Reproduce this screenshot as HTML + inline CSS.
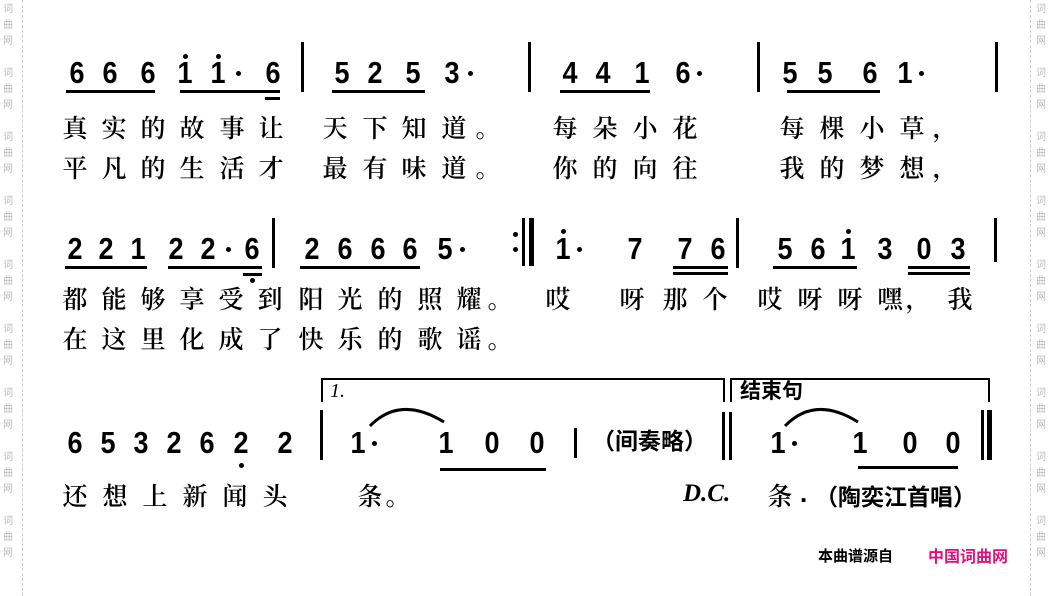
<!DOCTYPE html>
<html><head><meta charset="utf-8"><style>
html,body{margin:0;width:1050px;height:596px;overflow:hidden}
body{background:#fff;position:relative;font-family:"Liberation Sans","Noto Sans CJK SC",sans-serif;color:#000}
.n{position:absolute;font:bold 27px "Liberation Sans",sans-serif;transform:translateX(-50%) scaleY(1.12);line-height:1}
.l{position:absolute;font:25px "Noto Serif CJK SC","Noto Sans CJK SC",serif;font-weight:600;transform:translateX(-50%);line-height:1}
.u{position:absolute;height:3px;background:#000}
.b{position:absolute;width:3px;background:#000}
.d{position:absolute;width:5px;height:5px;border-radius:50%;background:#000}
.w{position:absolute;top:0;height:576px;overflow:hidden;font:10px "Noto Sans CJK SC",sans-serif;color:#bbb;width:14px;line-height:16px}
.w div{height:64px}
.vl{position:absolute;top:0;height:596px;border-left:1px dashed #ccc}
</style></head><body>
<div class="vl" style="left:22px"></div><div class="vl" style="left:1030px"></div>
<div class="w" style="left:3px"><div>词<br>曲<br>网</div><div>词<br>曲<br>网</div><div>词<br>曲<br>网</div><div>词<br>曲<br>网</div><div>词<br>曲<br>网</div><div>词<br>曲<br>网</div><div>词<br>曲<br>网</div><div>词<br>曲<br>网</div><div>词<br>曲<br>网</div></div>
<div class="w" style="left:1036px"><div>词<br>曲<br>网</div><div>词<br>曲<br>网</div><div>词<br>曲<br>网</div><div>词<br>曲<br>网</div><div>词<br>曲<br>网</div><div>词<br>曲<br>网</div><div>词<br>曲<br>网</div><div>词<br>曲<br>网</div><div>词<br>曲<br>网</div></div>

<!-- Row 1 -->
<div class="n" style="left:77px;top:60px">6</div><div class="n" style="left:110px;top:60px">6</div><div class="n" style="left:148px;top:60px">6</div>
<div class="n" style="left:185px;top:60px">1</div><div class="d" style="left:183px;top:54px"></div>
<div class="n" style="left:218px;top:60px">1</div><div class="d" style="left:216px;top:54px"></div><div class="d" style="left:236px;top:71px"></div>
<div class="n" style="left:273px;top:60px">6</div>
<div class="u" style="left:66px;top:90px;width:89px"></div><div class="u" style="left:180px;top:90px;width:100px"></div><div class="u" style="left:265px;top:97px;width:15px"></div>
<div class="b" style="left:301px;top:42px;height:50px"></div>
<div class="n" style="left:342px;top:60px">5</div><div class="n" style="left:375px;top:60px">2</div><div class="n" style="left:413px;top:60px">5</div><div class="n" style="left:452px;top:60px">3</div><div class="d" style="left:468px;top:71px"></div>
<div class="u" style="left:332px;top:90px;width:93px"></div>
<div class="b" style="left:528px;top:42px;height:50px"></div>
<div class="n" style="left:570px;top:60px">4</div><div class="n" style="left:603px;top:60px">4</div><div class="n" style="left:642px;top:60px">1</div><div class="n" style="left:683px;top:60px">6</div><div class="d" style="left:697px;top:71px"></div>
<div class="u" style="left:560px;top:90px;width:90px"></div>
<div class="b" style="left:757px;top:42px;height:50px"></div>
<div class="n" style="left:790px;top:60px">5</div><div class="n" style="left:825px;top:60px">5</div><div class="n" style="left:870px;top:60px">6</div><div class="n" style="left:905px;top:60px">1</div><div class="d" style="left:919px;top:71px"></div>
<div class="u" style="left:787px;top:90px;width:93px"></div>
<div class="b" style="left:995px;top:42px;height:50px"></div>

<div class="l" style="left:75px;top:115px">真</div><div class="l" style="left:114px;top:115px">实</div><div class="l" style="left:153px;top:115px">的</div><div class="l" style="left:192px;top:115px">故</div><div class="l" style="left:232px;top:115px">事</div><div class="l" style="left:271px;top:115px">让</div>
<div class="l" style="left:335px;top:115px">天</div><div class="l" style="left:375px;top:115px">下</div><div class="l" style="left:414px;top:115px">知</div><div class="l" style="left:454px;top:115px">道</div><div class="l" style="left:488px;top:115px">。</div>
<div class="l" style="left:565px;top:115px">每</div><div class="l" style="left:605px;top:115px">朵</div><div class="l" style="left:645px;top:115px">小</div><div class="l" style="left:685px;top:115px">花</div>
<div class="l" style="left:792px;top:115px">每</div><div class="l" style="left:832px;top:115px">棵</div><div class="l" style="left:872px;top:115px">小</div><div class="l" style="left:912px;top:115px">草</div><div class="l" style="left:945px;top:115px">，</div>
<div class="l" style="left:75px;top:155px">平</div><div class="l" style="left:114px;top:155px">凡</div><div class="l" style="left:153px;top:155px">的</div><div class="l" style="left:192px;top:155px">生</div><div class="l" style="left:232px;top:155px">活</div><div class="l" style="left:271px;top:155px">才</div>
<div class="l" style="left:335px;top:155px">最</div><div class="l" style="left:375px;top:155px">有</div><div class="l" style="left:414px;top:155px">味</div><div class="l" style="left:454px;top:155px">道</div><div class="l" style="left:488px;top:155px">。</div>
<div class="l" style="left:565px;top:155px">你</div><div class="l" style="left:605px;top:155px">的</div><div class="l" style="left:645px;top:155px">向</div><div class="l" style="left:685px;top:155px">往</div>
<div class="l" style="left:792px;top:155px">我</div><div class="l" style="left:832px;top:155px">的</div><div class="l" style="left:872px;top:155px">梦</div><div class="l" style="left:912px;top:155px">想</div><div class="l" style="left:945px;top:155px">，</div>

<!-- Row 2 -->
<div class="n" style="left:75px;top:236px">2</div><div class="n" style="left:106px;top:236px">2</div><div class="n" style="left:138px;top:236px">1</div>
<div class="n" style="left:176px;top:236px">2</div><div class="n" style="left:208px;top:236px">2</div><div class="d" style="left:226px;top:247px"></div><div class="n" style="left:252px;top:236px">6</div>
<div class="u" style="left:65px;top:266px;width:82px"></div><div class="u" style="left:168px;top:266px;width:94px"></div><div class="u" style="left:243px;top:273px;width:19px"></div><div class="d" style="left:250px;top:278px"></div>
<div class="b" style="left:272px;top:218px;height:50px"></div>
<div class="n" style="left:312px;top:236px">2</div><div class="n" style="left:345px;top:236px">6</div><div class="n" style="left:378px;top:236px">6</div><div class="n" style="left:410px;top:236px">6</div><div class="n" style="left:445px;top:236px">5</div><div class="d" style="left:460px;top:247px"></div>
<div class="u" style="left:300px;top:266px;width:120px"></div>
<div class="d" style="left:513px;top:232px"></div><div class="d" style="left:513px;top:247px"></div>
<div class="b" style="left:522px;top:218px;height:48px"></div><div class="b" style="left:529px;top:218px;height:48px;width:5px"></div>
<div class="n" style="left:563px;top:236px">1</div><div class="d" style="left:561px;top:229px"></div><div class="d" style="left:577px;top:247px"></div>
<div class="n" style="left:635px;top:236px">7</div><div class="n" style="left:685px;top:236px">7</div><div class="n" style="left:718px;top:236px">6</div>
<div class="u" style="left:673px;top:266px;width:55px"></div><div class="u" style="left:673px;top:272px;width:55px"></div>
<div class="b" style="left:736px;top:218px;height:50px"></div>
<div class="n" style="left:785px;top:236px">5</div><div class="n" style="left:818px;top:236px">6</div><div class="n" style="left:848px;top:236px">1</div><div class="d" style="left:846px;top:229px"></div><div class="n" style="left:885px;top:236px">3</div><div class="n" style="left:924px;top:236px">0</div><div class="n" style="left:958px;top:236px">3</div>
<div class="u" style="left:773px;top:266px;width:84px"></div>
<div class="u" style="left:908px;top:266px;width:62px"></div><div class="u" style="left:908px;top:272px;width:62px"></div>
<div class="b" style="left:994px;top:218px;height:44px"></div>

<div class="l" style="left:75px;top:286px">都</div><div class="l" style="left:114px;top:286px">能</div><div class="l" style="left:153px;top:286px">够</div><div class="l" style="left:192px;top:286px">享</div><div class="l" style="left:231px;top:286px">受</div><div class="l" style="left:270px;top:286px">到</div>
<div class="l" style="left:311px;top:286px">阳</div><div class="l" style="left:350px;top:286px">光</div><div class="l" style="left:390px;top:286px">的</div><div class="l" style="left:430px;top:286px">照</div><div class="l" style="left:469px;top:286px">耀</div><div class="l" style="left:500px;top:286px">。</div>
<div class="l" style="left:558px;top:286px">哎</div><div class="l" style="left:632px;top:286px">呀</div><div class="l" style="left:675px;top:286px">那</div><div class="l" style="left:715px;top:286px">个</div>
<div class="l" style="left:770px;top:286px">哎</div><div class="l" style="left:810px;top:286px">呀</div><div class="l" style="left:850px;top:286px">呀</div><div class="l" style="left:890px;top:286px">嘿</div><div class="l" style="left:918px;top:286px">，</div><div class="l" style="left:960px;top:286px">我</div>
<div class="l" style="left:75px;top:326px">在</div><div class="l" style="left:114px;top:326px">这</div><div class="l" style="left:153px;top:326px">里</div><div class="l" style="left:192px;top:326px">化</div><div class="l" style="left:231px;top:326px">成</div><div class="l" style="left:270px;top:326px">了</div>
<div class="l" style="left:311px;top:326px">快</div><div class="l" style="left:350px;top:326px">乐</div><div class="l" style="left:390px;top:326px">的</div><div class="l" style="left:430px;top:326px">歌</div><div class="l" style="left:469px;top:326px">谣</div><div class="l" style="left:500px;top:326px">。</div>

<!-- Row 3 -->
<div style="position:absolute;left:321px;top:378px;width:400px;height:22px;border:2px solid #000;border-bottom:none"></div>
<div style="position:absolute;left:330px;top:380px;font:italic 20px 'Liberation Serif',serif">1.</div>
<div style="position:absolute;left:730px;top:378px;width:256px;height:22px;border:2px solid #000;border-bottom:none"></div>
<div style="position:absolute;left:740px;top:380px;font:bold 21px 'Noto Sans CJK SC',sans-serif;line-height:1">结束句</div>
<div class="n" style="left:75px;top:430px">6</div><div class="n" style="left:108px;top:430px">5</div><div class="n" style="left:141px;top:430px">3</div><div class="n" style="left:174px;top:430px">2</div><div class="n" style="left:207px;top:430px">6</div><div class="n" style="left:241px;top:430px">2</div><div class="d" style="left:239px;top:463px"></div><div class="n" style="left:285px;top:430px">2</div>
<div class="b" style="left:320px;top:410px;height:50px"></div>
<svg style="position:absolute;left:0;top:0" width="1050" height="596"><path d="M370 426 Q400 395 444 422" stroke="#000" stroke-width="3" fill="none"/><path d="M785 426 Q815 395 858 422" stroke="#000" stroke-width="3" fill="none"/></svg>
<div class="n" style="left:358px;top:430px">1</div><div class="d" style="left:372px;top:441px"></div>
<div class="n" style="left:446px;top:430px">1</div><div class="n" style="left:492px;top:430px">0</div><div class="n" style="left:537px;top:430px">0</div>
<div class="u" style="left:440px;top:468px;width:106px"></div>
<div class="b" style="left:574px;top:428px;height:30px"></div>
<div style="position:absolute;left:592px;top:428px;font:bold 23px 'Noto Sans CJK SC',sans-serif;line-height:1">（间奏略）</div>
<div class="b" style="left:722px;top:412px;height:48px"></div><div class="b" style="left:729px;top:412px;height:48px"></div>
<div class="n" style="left:778px;top:430px">1</div><div class="d" style="left:792px;top:441px"></div>
<div class="n" style="left:860px;top:430px">1</div><div class="n" style="left:910px;top:430px">0</div><div class="n" style="left:953px;top:430px">0</div>
<div class="u" style="left:858px;top:466px;width:100px"></div>
<div class="b" style="left:981px;top:410px;height:50px"></div><div class="b" style="left:987px;top:410px;height:50px;width:5px"></div>

<div class="l" style="left:75px;top:483px">还</div><div class="l" style="left:115px;top:483px">想</div><div class="l" style="left:155px;top:483px">上</div><div class="l" style="left:195px;top:483px">新</div><div class="l" style="left:235px;top:483px">闻</div><div class="l" style="left:275px;top:483px">头</div>
<div class="l" style="left:370px;top:483px">条</div><div class="l" style="left:398px;top:483px">。</div>
<div style="position:absolute;left:683px;top:480px;font:italic bold 25px 'Liberation Serif',serif">D.C.</div>
<div class="l" style="left:780px;top:483px">条</div><div style="position:absolute;left:800px;top:478px;font:bold 26px 'Liberation Sans',sans-serif">.</div>
<div style="position:absolute;left:815px;top:484px;font:bold 23px 'Noto Sans CJK SC',sans-serif;line-height:1">（陶奕江首唱）</div>

<div style="position:absolute;left:818px;top:548px;font:bold 15px 'Noto Sans CJK SC',sans-serif;line-height:1">本曲谱源自</div>
<div style="position:absolute;left:928px;top:547px;font:bold 16px 'Noto Sans CJK SC',sans-serif;color:#e0107a;line-height:1">中国词曲网</div>
</body></html>
